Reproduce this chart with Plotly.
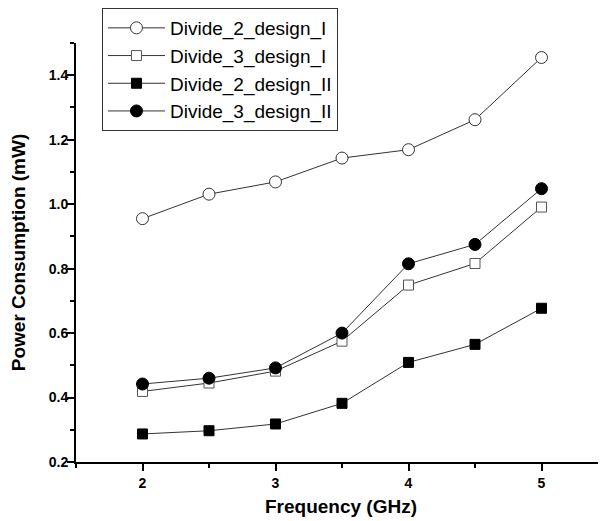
import plotly.graph_objects as go

freq = [2, 2.5, 3, 3.5, 4, 4.5, 5]
divide_2_design_I = [0.955, 1.031, 1.069, 1.143, 1.169, 1.262, 1.455]
divide_3_design_I = [0.419, 0.445, 0.482, 0.575, 0.749, 0.816, 0.991]
divide_2_design_II = [0.287, 0.297, 0.318, 0.382, 0.509, 0.565, 0.677]
divide_3_design_II = [0.442, 0.460, 0.492, 0.600, 0.815, 0.875, 1.048]

x_title = "Frequency (GHz)"
y_title = "Power Consumption (mW)"

FONT = "Liberation Sans, Arial, sans-serif"

fig = go.Figure()
fig.add_trace(go.Scatter(
    x=freq, y=divide_2_design_I, name="Divide_2_design_I", mode="lines+markers",
    line=dict(color="#333333", width=1),
    marker=dict(symbol="circle", size=12, color="white", line=dict(color="#333333", width=1))))
fig.add_trace(go.Scatter(
    x=freq, y=divide_3_design_I, name="Divide_3_design_I", mode="lines+markers",
    line=dict(color="#333333", width=1),
    marker=dict(symbol="square", size=10, color="white", line=dict(color="#555555", width=1))))
fig.add_trace(go.Scatter(
    x=freq, y=divide_2_design_II, name="Divide_2_design_II", mode="lines+markers",
    line=dict(color="#333333", width=1),
    marker=dict(symbol="square", size=10, color="black", line=dict(color="black", width=1))))
fig.add_trace(go.Scatter(
    x=freq, y=divide_3_design_II, name="Divide_3_design_II", mode="lines+markers",
    line=dict(color="#333333", width=1),
    marker=dict(symbol="circle", size=12, color="black", line=dict(color="black", width=1))))

# page has an 8px body margin: compensate so plot lands where the reference has it
fig.update_layout(
    width=598, height=513,
    margin=dict(l=68, r=0, t=34, b=59),
    paper_bgcolor="white", plot_bgcolor="white",
    font=dict(family=FONT, color="black"),
    legend=dict(
        x=0.049, y=1.083, xanchor="left", yanchor="top",
        bgcolor="white", bordercolor="#333333", borderwidth=1,
        font=dict(family=FONT, size=19, color="black"),
        itemwidth=57,
    ),
    showlegend=True,
)

fig.update_xaxes(
    range=[1.5, 5.485], tickmode="linear", tick0=2, dtick=1,
    showline=True, linecolor="black", linewidth=2,
    ticks="outside", ticklen=7, tickwidth=1.5, tickcolor="black",
    minor=dict(dtick=0.5, tick0=1.5, ticks="outside", ticklen=4, tickwidth=1.5, tickcolor="black"),
    showgrid=False, zeroline=False,
    tickfont=dict(family=FONT, size=14, color="black", weight="bold"),
    ticklabelstandoff=0,
    title=dict(text=x_title, font=dict(family=FONT, size=19, color="black", weight="bold"), standoff=10),
)
fig.update_yaxes(
    range=[0.2, 1.5], tickmode="linear", tick0=0.2, dtick=0.2, tickformat=".1f",
    showline=True, linecolor="black", linewidth=2,
    ticks="outside", ticklen=7, tickwidth=1.5, tickcolor="black",
    minor=dict(dtick=0.1, tick0=0.2, ticks="outside", ticklen=4, tickwidth=1.5, tickcolor="black"),
    showgrid=False, zeroline=False,
    tickfont=dict(family=FONT, size=14, color="black", weight="bold"),
    ticklabelstandoff=-4,
    title=dict(text=y_title, font=dict(family=FONT, size=19, color="black", weight="bold"), standoff=20),
)

fig.write_html("out.html")
